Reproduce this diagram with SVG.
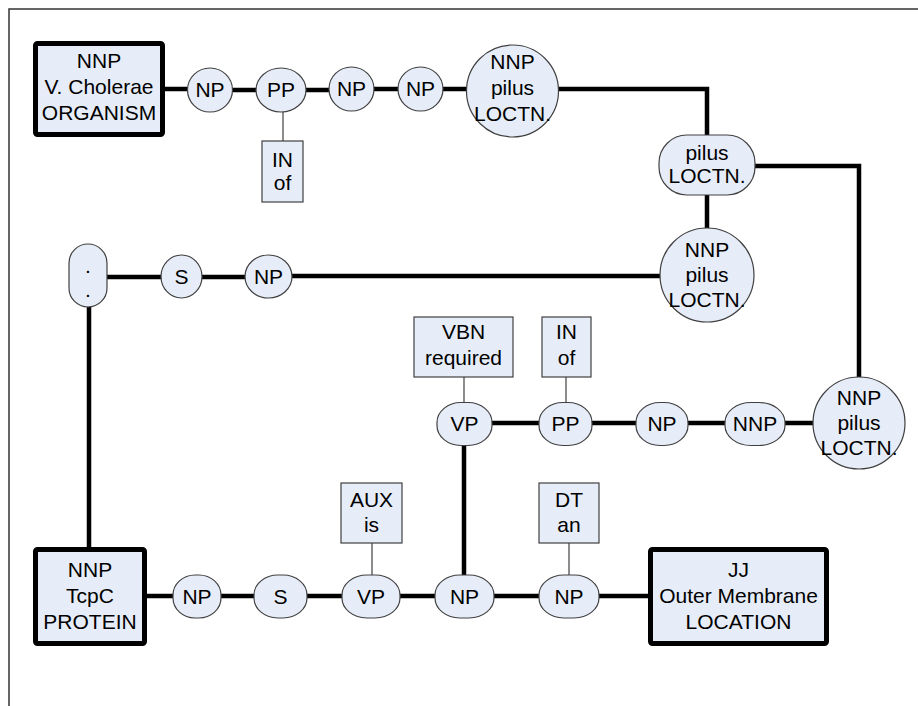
<svg xmlns="http://www.w3.org/2000/svg" width="918" height="706" viewBox="0 0 918 706">
<style>
.frame{fill:none;stroke:#333;stroke-width:1.5}
.nd{fill:#E7EDF8;stroke:#404040;stroke-width:1.2}
.big{fill:#E7EDF8;stroke:#000;stroke-width:5}
.lbl{fill:#E7EDF8;stroke:#404040;stroke-width:1.2}
.t{font-family:"Liberation Sans",Arial,sans-serif;font-size:21px;fill:#000;text-anchor:middle}
.c{fill:none;stroke:#000;stroke-width:4.5;stroke-linecap:round;stroke-linejoin:miter}
.th{fill:none;stroke:#404040;stroke-width:1.2}
</style>
<rect x="0" y="0" width="918" height="706" fill="#fff"/>
<rect class="frame" x="9" y="9" width="1000" height="1000"/>

<g id="connectors">
<path class="c" d="M165 89H187"/>
<path class="c" d="M233 90H256"/>
<path class="c" d="M306 90H329"/>
<path class="c" d="M374 89H398"/>
<path class="c" d="M443 89H467"/>
<path class="c" d="M558 89H707V135"/>
<path class="c" d="M707 195V228"/>
<path class="c" d="M755 166H859V377"/>
<path class="c" d="M660 276H292"/>
<path class="c" d="M245 277H202"/>
<path class="c" d="M161 277H107"/>
<path class="c" d="M89 307V547"/>
<path class="c" d="M813 423H785"/>
<path class="c" d="M725 423H688"/>
<path class="c" d="M636 423H592"/>
<path class="c" d="M539 423H492"/>
<path class="c" d="M464 446V575"/>
<path class="c" d="M147 596H173"/>
<path class="c" d="M221 596H254"/>
<path class="c" d="M307 596H342"/>
<path class="c" d="M400 596H435"/>
<path class="c" d="M494 596H539"/>
<path class="c" d="M599 596H648"/>
<path class="th" d="M283 112V141"/>
<path class="th" d="M464 402V377"/>
<path class="th" d="M566 402V377"/>
<path class="th" d="M372 575V543"/>
<path class="th" d="M569 575V543"/>
</g>

<g id="organism">
<rect class="big" x="35.5" y="43.5" width="127" height="91" rx="2"/>
<text class="t" x="99" y="68">NNP</text>
<text class="t" x="99" y="94">V. Cholerae</text>
<text class="t" x="99" y="120">ORGANISM</text>
</g>
<g id="np1"><ellipse class="nd" cx="210" cy="90" rx="22.5" ry="22"/><text class="t" x="210" y="97">NP</text></g>
<g id="pp1"><ellipse class="nd" cx="281" cy="90" rx="25" ry="22"/><text class="t" x="281" y="97">PP</text></g>
<g id="in1"><rect class="lbl" x="262" y="141" width="41" height="61"/><text class="t" x="282.5" y="167">IN</text><text class="t" x="282.5" y="190">of</text></g>
<g id="np3"><ellipse class="nd" cx="351.5" cy="89" rx="22.5" ry="22"/><text class="t" x="351.5" y="96">NP</text></g>
<g id="np4"><ellipse class="nd" cx="420.5" cy="89" rx="22.5" ry="22"/><text class="t" x="420.5" y="96">NP</text></g>
<g id="loc1"><circle class="nd" cx="512.5" cy="91" r="46"/>
<text class="t" x="512.5" y="69">NNP</text><text class="t" x="512.5" y="95">pilus</text><text class="t" x="512.5" y="121">LOCTN.</text></g>

<g id="pilus"><rect class="nd" x="659" y="135" width="96" height="60" rx="28" ry="28"/>
<text class="t" x="707" y="160">pilus</text><text class="t" x="707" y="183">LOCTN.</text></g>
<g id="loc2"><circle class="nd" cx="707" cy="275" r="47"/>
<text class="t" x="707" y="257">NNP</text><text class="t" x="707" y="282">pilus</text><text class="t" x="707" y="307">LOCTN.</text></g>
<g id="colon"><rect class="nd" x="69" y="244" width="38" height="63" rx="19" ry="19"/>
<text class="t" x="88" y="273">.</text><text class="t" x="88" y="297">.</text></g>
<g id="s2"><ellipse class="nd" cx="181.5" cy="276.5" rx="20.5" ry="21.5"/><text class="t" x="181.5" y="284">S</text></g>
<g id="np2"><ellipse class="nd" cx="268.5" cy="276.5" rx="23.5" ry="21.5"/><text class="t" x="268.5" y="284">NP</text></g>

<g id="vbn"><rect class="lbl" x="414" y="317" width="99" height="60"/>
<text class="t" x="463.5" y="339">VBN</text><text class="t" x="463.5" y="365">required</text></g>
<g id="in2"><rect class="lbl" x="542" y="317" width="49" height="60"/>
<text class="t" x="566.5" y="339">IN</text><text class="t" x="566.5" y="365">of</text></g>
<g id="vp3"><rect class="nd" x="437" y="402.5" width="55" height="43" rx="24" ry="20"/><text class="t" x="464.5" y="431">VP</text></g>
<g id="pp3"><rect class="nd" x="539" y="402.5" width="53" height="43" rx="24" ry="20"/><text class="t" x="565.5" y="431">PP</text></g>
<g id="np3b"><rect class="nd" x="636" y="402.5" width="52" height="43" rx="24" ry="20"/><text class="t" x="662" y="431">NP</text></g>
<g id="nnp3"><rect class="nd" x="725" y="402.5" width="60" height="43" rx="26" ry="20"/><text class="t" x="755" y="431">NNP</text></g>
<g id="loc3"><circle class="nd" cx="859" cy="423" r="46"/>
<text class="t" x="859" y="405">NNP</text><text class="t" x="859" y="430">pilus</text><text class="t" x="859" y="455">LOCTN.</text></g>

<g id="protein">
<rect class="big" x="35.5" y="549.5" width="109" height="94" rx="2"/>
<text class="t" x="90" y="577">NNP</text>
<text class="t" x="90" y="603">TcpC</text>
<text class="t" x="90" y="629">PROTEIN</text>
</g>
<g id="np5"><rect class="nd" x="173" y="575" width="48" height="43" rx="22" ry="20"/><text class="t" x="197" y="604">NP</text></g>
<g id="s5"><rect class="nd" x="254" y="575" width="53" height="43" rx="24" ry="20"/><text class="t" x="280.5" y="604">S</text></g>
<g id="vp5"><rect class="nd" x="342" y="575" width="58" height="43" rx="25" ry="20"/><text class="t" x="371" y="604">VP</text></g>
<g id="aux"><rect class="lbl" x="341" y="483" width="61" height="60"/>
<text class="t" x="371.5" y="507">AUX</text><text class="t" x="371.5" y="532">is</text></g>
<g id="np6"><rect class="nd" x="435" y="575" width="59" height="43" rx="25" ry="20"/><text class="t" x="464.5" y="604">NP</text></g>
<g id="np7"><rect class="nd" x="539" y="575" width="60" height="43" rx="25" ry="20"/><text class="t" x="569" y="604">NP</text></g>
<g id="dt"><rect class="lbl" x="539" y="483" width="60" height="60"/>
<text class="t" x="569" y="507">DT</text><text class="t" x="569" y="532">an</text></g>
<g id="location">
<rect class="big" x="650.5" y="549.5" width="176" height="94" rx="2"/>
<text class="t" x="738.5" y="577">JJ</text>
<text class="t" x="738.5" y="603">Outer Membrane</text>
<text class="t" x="738.5" y="629">LOCATION</text>
</g>
</svg>
